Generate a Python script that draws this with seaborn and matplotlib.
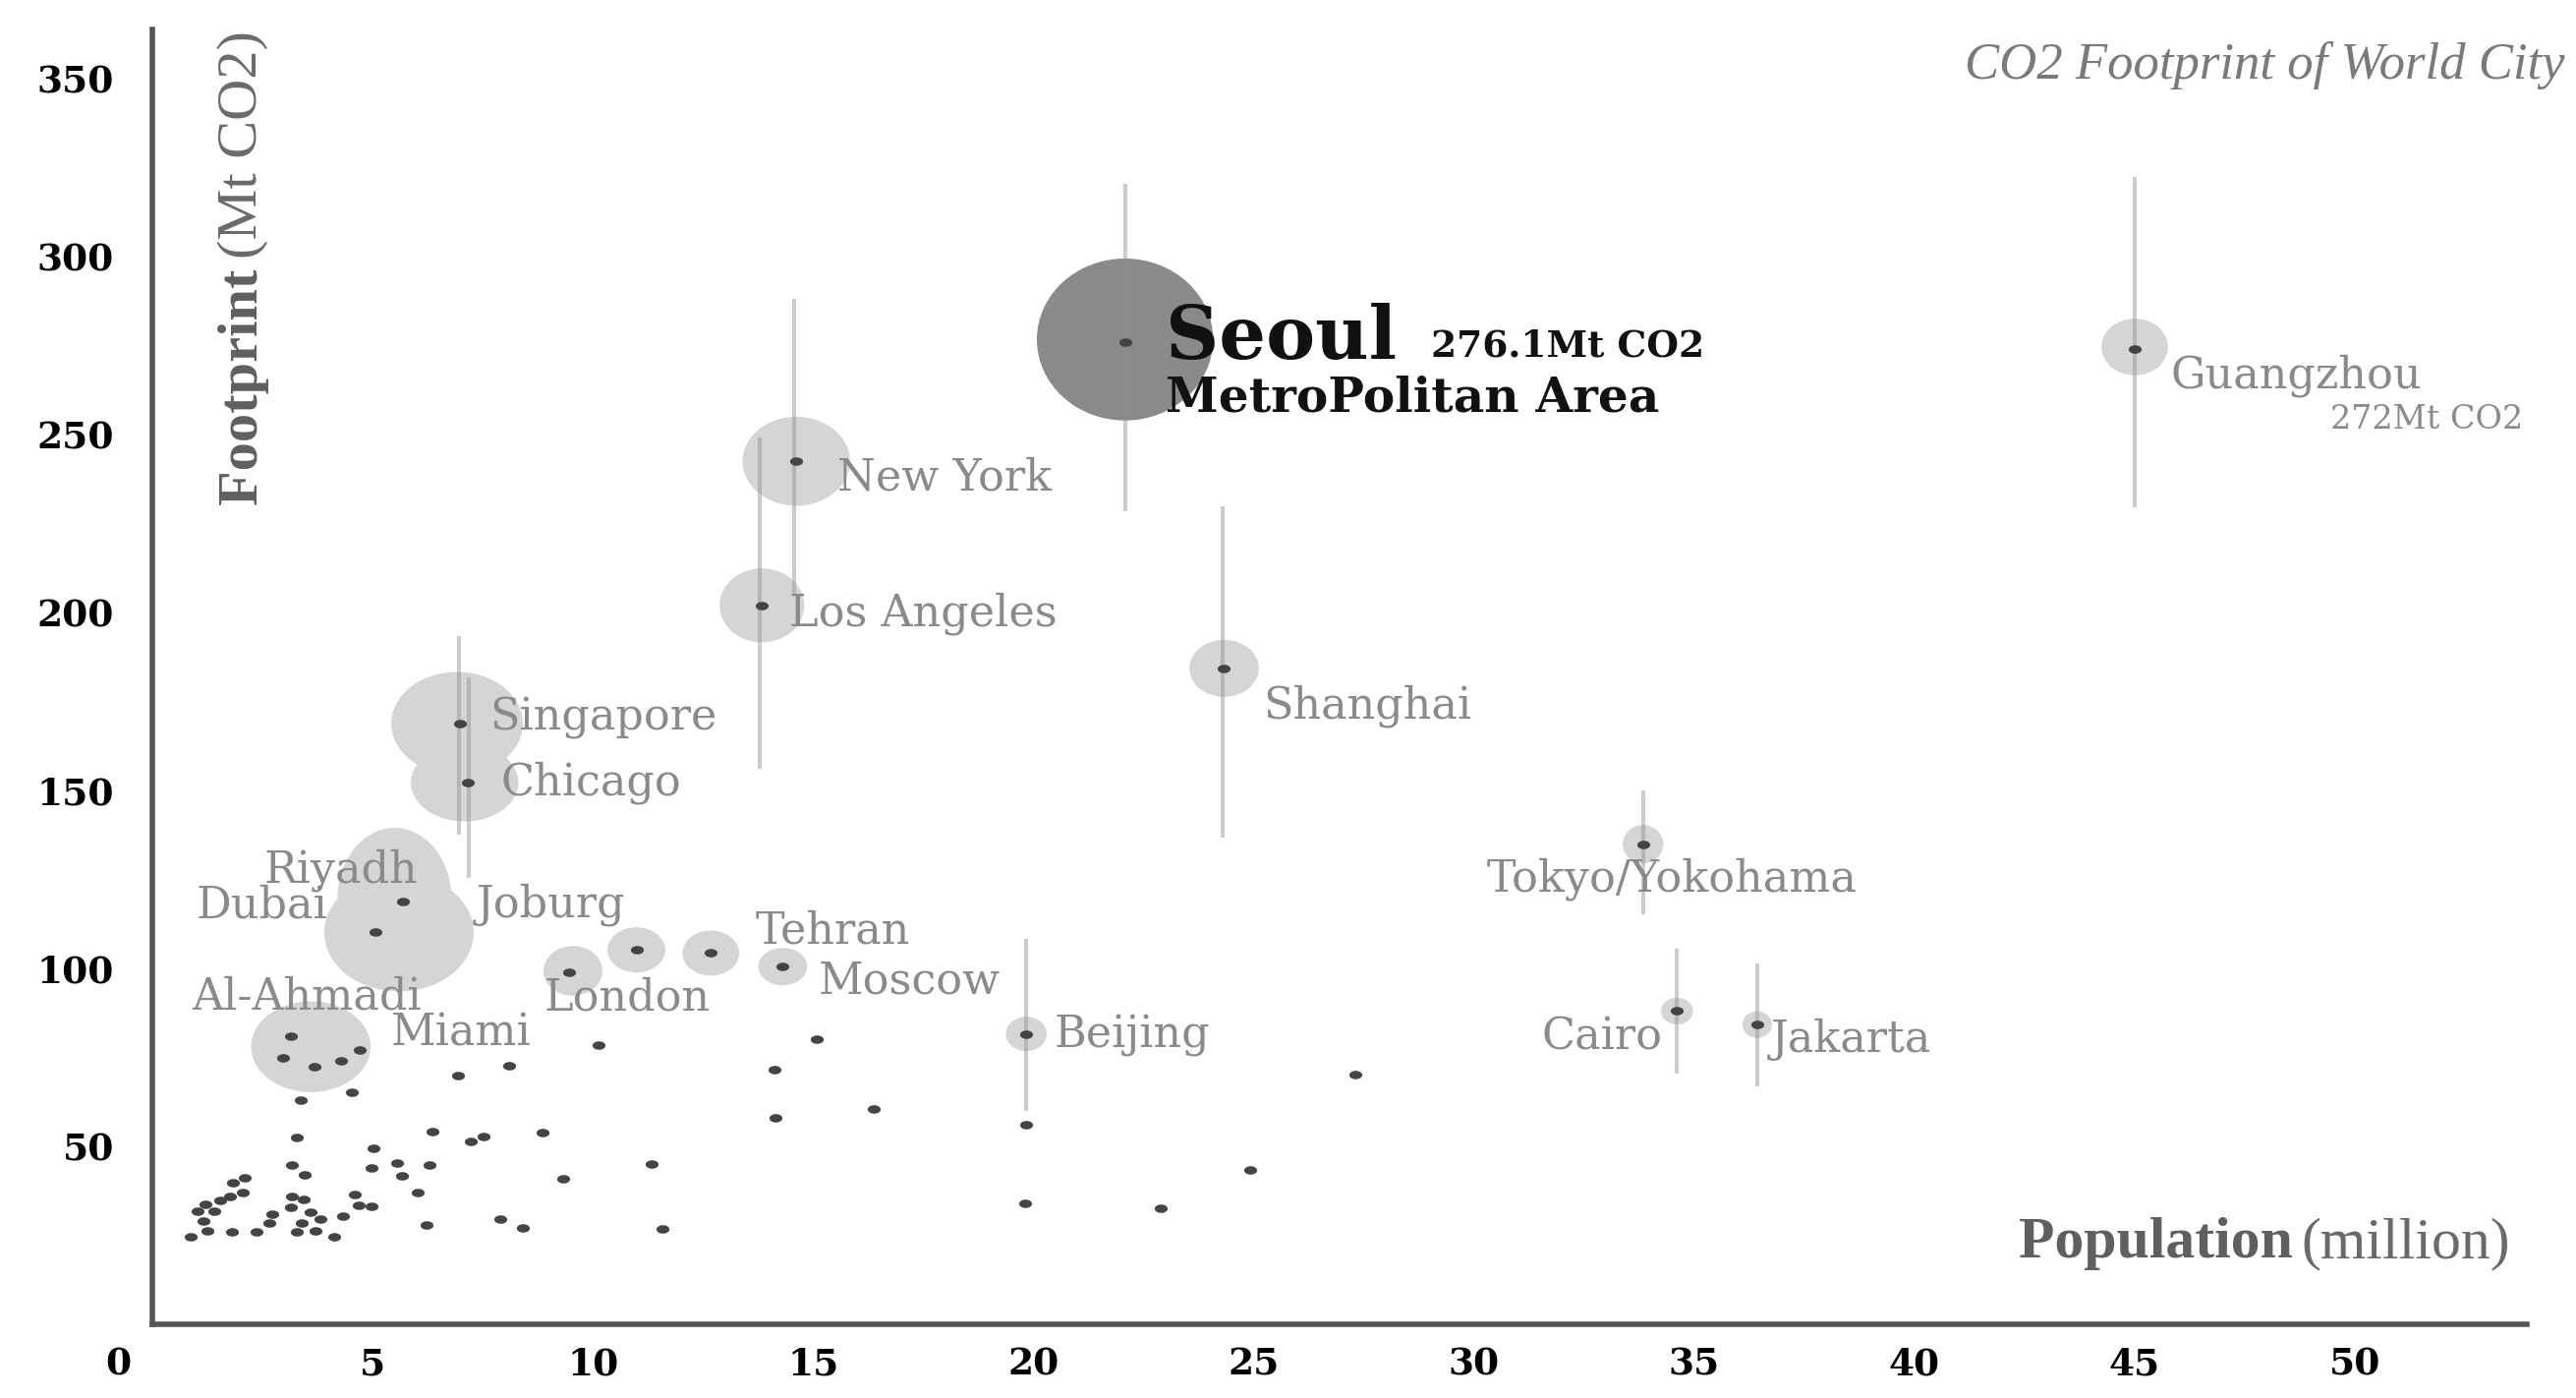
import numpy as np
import pandas as pd
import matplotlib
matplotlib.use('Agg')
import matplotlib.pyplot as plt
import seaborn as sns
from matplotlib.patches import Ellipse
from matplotlib.path import Path
from matplotlib.transforms import ScaledTranslation

# Labelled cities (population in million, footprint in Mt CO2)
city_names = ['Seoul', 'Guangzhou', 'New York', 'Los Angeles', 'Shanghai', 'Singapore',
              'Chicago', 'Riyadh', 'Dubai', 'London', 'Joburg', 'Tehran', 'Moscow',
              'Beijing', 'Tokyo/Yokohama', 'Cairo', 'Jakarta']
city_pop = [22.08, 45.0, 14.62, 13.84, 24.33, 6.99, 7.16, 5.70, 5.07, 9.47, 10.99, 12.68,
            14.31, 19.84, 33.84, 34.61, 36.43]
city_co2 = [276.1, 274.0, 242.5, 202.0, 184.3, 168.8, 152.2, 118.8, 110.1, 98.8, 105.2, 104.3,
            100.5, 81.6, 134.9, 88.0, 84.2]

# Other cities (dots only)
small_pop = [3.14, 2.97, 3.68, 4.29, 4.71, 4.53, 3.36, 6.93, 8.10, 3.29, 6.37, 7.22, 7.52, 8.86,
             5.03, 4.97, 5.55, 5.66, 6.29, 9.32, 6.02, 4.98, 6.22, 7.89, 8.41, 4.33, 4.60, 4.69,
             3.18, 3.47, 3.18, 3.44, 3.14, 3.59, 3.40, 3.81, 3.29, 3.70, 4.14, 2.10, 1.84, 2.06,
             1.77, 1.54, 1.21, 1.02, 1.40, 1.17, 1.80, 0.88, 1.25, 2.36, 2.66, 2.73,
             10.12, 15.09, 14.13, 14.15, 16.38, 11.33, 11.57, 19.84, 19.81, 22.89, 24.93, 27.3]
small_co2 = [80.9, 74.9, 72.4, 74.0, 77.0, 65.3, 63.0, 69.9, 72.8, 52.6, 54.2, 51.5, 52.8, 53.8,
             49.4, 43.8, 45.2, 41.7, 44.9, 41.0, 36.9, 33.2, 27.9, 29.7, 27.1, 30.3, 36.5, 33.5,
             44.8, 42.0, 36.0, 35.1, 32.8, 31.4, 28.6, 29.5, 25.9, 26.3, 24.5, 41.1, 39.7, 36.9,
             36.0, 34.7, 33.7, 31.9, 31.9, 29.1, 25.9, 24.5, 26.3, 25.9, 28.6, 30.9,
             78.4, 80.2, 71.5, 57.9, 60.4, 45.0, 26.8, 56.0, 34.0, 32.6, 43.4, 70.1]

# Bubbles (centre, width in million, height in Mt CO2)
bubble_pop = [22.08, 45.0, 14.62, 13.84, 24.33, 6.92, 7.09, 5.5, 5.6, 3.60, 9.55, 10.99,
              12.68, 14.31, 19.84, 33.84, 34.61, 36.43]
bubble_co2 = [276.7, 274.6, 242.5, 202.0, 184.3, 168.8, 152.2, 119.5, 110.1, 78.0, 99.3, 105.2,
              104.3, 100.5, 81.6, 134.9, 88.0, 84.2]
bubble_w = [4.0, 1.51, 2.44, 1.92, 1.58, 2.99, 2.44, 2.59, 3.39, 2.71, 1.34, 1.31, 1.29, 1.11,
            0.93, 0.92, 0.73, 0.67]
bubble_h = [45.5, 15.9, 25.0, 20.8, 16.0, 29.0, 21.8, 40.0, 33.2, 25.5, 14.0, 12.7, 12.7, 10.5,
            9.7, 10.8, 7.5, 7.5]

# Range lines
err_pop = [22.08, 45.0, 14.58, 13.80, 24.30, 6.96, 7.19, 19.84, 33.84, 34.61, 36.43]
err_low = [228.5, 229.6, 205.0, 156.2, 136.8, 137.7, 125.4, 59.9, 115.1, 70.4, 67.0]
err_high = [320.4, 322.5, 288.0, 249.3, 229.8, 193.5, 181.9, 108.3, 150.0, 105.4, 101.4]

sns.set_theme(style='white')
plt.rcParams['font.family'] = ['DejaVu Serif']

fig = plt.figure(figsize=(26.21, 14.22), dpi=100)
ax = fig.add_axes([0.0591, 0.0527, 0.9218, 0.9262])

# bubbles
for i, (bx, by, bw, bh) in enumerate(zip(bubble_pop, bubble_co2, bubble_w, bubble_h)):
    fc = '#8a8a8a' if i == 0 else '#d5d5d5'
    ax.add_patch(Ellipse((bx, by), bw, bh, facecolor=fc, edgecolor='none', zorder=1))

ax.vlines(err_pop, err_low, err_high, colors='#8f8f8f', alpha=0.45, linewidth=3, zorder=2)

# small elliptic dots
theta = np.linspace(0, 2 * np.pi, 48)
dot_marker = Path(np.column_stack([np.cos(theta), 0.65 * np.sin(theta)]), closed=True)
dots = pd.DataFrame({'pop': city_pop + small_pop, 'co2': city_co2 + small_co2})
sns.scatterplot(data=dots, x='pop', y='co2', marker=dot_marker, s=90, color='#444444',
                linewidth=0, ax=ax, zorder=3, legend=False)

# city labels
labels = [
    ('Singapore', 7.66, 170.3, 'left'),
    ('Chicago', 7.91, 152.2, 'left'),
    ('Riyadh', 6.02, 127.5, 'right'),
    ('Dubai', 3.97, 117.8, 'right'),
    ('Joburg', 7.36, 117.8, 'left'),
    ('Al-Ahmadi', 0.89, 92.0, 'left'),
    ('Miami', 5.42, 81.9, 'left'),
    ('London', 8.89, 91.7, 'left'),
    ('Tehran', 13.7, 110.5, 'left'),
    ('Moscow', 15.13, 96.5, 'left'),
    ('Beijing', 20.47, 81.1, 'left'),
    ('Cairo', 34.28, 80.7, 'right'),
    ('Jakarta', 36.73, 80.0, 'left'),
    ('Tokyo/Yokohama', 34.5, 125.1, 'center'),
    ('Shanghai', 25.22, 173.7, 'left'),
    ('Los Angeles', 14.46, 199.8, 'left'),
    ('New York', 15.55, 237.9, 'left'),
    ('Guangzhou', 45.81, 266.6, 'left'),
]
for txt, lx, ly, ha in labels:
    ax.text(lx, ly, txt, ha=ha, va='center', fontsize=32, color='#8a8a8a', zorder=4)
ax.text(49.44, 254.2, '272Mt CO2', ha='left', va='center', fontsize=24, color='#8a8a8a')

ax.text(23.0, 271.4, 'Seoul', ha='left', va='baseline', fontsize=54, fontweight='bold',
        color='#111111', zorder=4)
ax.text(29.03, 271.9, '276.1Mt CO2', ha='left', va='baseline', fontsize=27, fontweight='bold',
        color='#111111', zorder=4)
ax.text(23.0, 256.6, 'MetroPolitan Area', ha='left', va='baseline', fontsize=35,
        fontweight='bold', color='#111111', zorder=4)

# axis titles
ax.text(2.05, 230.4, 'Footprint', rotation=90, rotation_mode='anchor', ha='left', va='center',
        fontsize=42, fontweight='bold', family='Liberation Serif', color='#5f5f5f')
ax.text(2.05, 299.5, '(Mt CO2)', rotation=90, rotation_mode='anchor', ha='left', va='center',
        fontsize=42, family='Liberation Serif', color='#6a6a6a')
ax.text(42.37, 18.8, 'Population', ha='left', va='baseline', fontsize=43, fontweight='bold',
        family='Liberation Serif', color='#5f5f5f')
ax.text(48.78, 18.8, '(million)', ha='left', va='baseline', fontsize=43,
        family='Liberation Serif', color='#6a6a6a')

fig.text(0.9958, 0.9437, 'CO2 Footprint of World City', ha='right', va='baseline',
         fontsize=38, fontstyle='italic', family='Liberation Serif', color='#7a7a7a')

# axes styling
ax.set_xlim(0, 53.9)
ax.set_ylim(0, 363.8)
ax.set_xticks(range(0, 51, 5))
ax.set_yticks(range(50, 351, 50))
ax.set_xlabel('')
ax.set_ylabel('')
sns.despine(ax=ax)
for side in ['left', 'bottom']:
    ax.spines[side].set_color('#555555')
    ax.spines[side].set_linewidth(4)
ax.tick_params(axis='both', direction='in', color='#555555', width=2.5, labelsize=27,
               labelcolor='black')
ax.tick_params(axis='x', length=15, pad=16)
ax.tick_params(axis='y', length=18, pad=28)
for lbl in ax.get_xticklabels() + ax.get_yticklabels():
    lbl.set_fontweight('bold')
zero = ax.get_xticklabels()[0]
zero.set_transform(zero.get_transform() + ScaledTranslation(-0.35, 0, fig.dpi_scale_trans))

fig.savefig('out.png', dpi=100)
